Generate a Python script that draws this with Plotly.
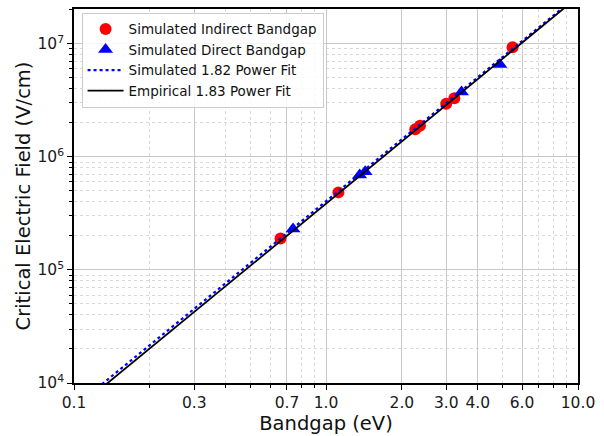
import numpy as np
import plotly.graph_objects as go

# Materials with an indirect bandgap: bandgap (eV) and simulated critical field (V/cm)
indirect_eg = [0.66, 1.12, 2.26, 2.36, 3.0, 3.23, 5.5]
indirect_ec = [1.9e5, 4.85e5, 1.75e6, 1.88e6, 2.95e6, 3.3e6, 9.3e6]

# Materials with a direct bandgap
direct_eg = [0.74, 1.36, 1.43, 3.45, 4.9]
direct_ec = [2.3e5, 6.9e5, 7.4e5, 3.75e6, 6.55e6]

# Power-law fits  Ec = A * Eg^n
sim_fit_coef, sim_fit_exp = 4.05e5, 1.82
emp_fit_coef, emp_fit_exp = 3.85e5, 1.83
fit_range = [0.1, 10.0]

x_tick_vals = [0.1, 0.3, 0.7, 1.0, 2.0, 3.0, 4.0, 6.0, 10.0]
x_tick_text = ["0.1", "0.3", "0.7", "1.0", "2.0", "3.0", "4.0", "6.0", "10.0"]
x_minor_vals = [0.2, 0.4, 0.5, 0.6, 0.8, 0.9, 5.0, 7.0, 8.0, 9.0]
y_tick_vals = [1e4, 1e5, 1e6, 1e7]
y_tick_text = ["10<sup>4</sup>", "10<sup>5</sup>", "10<sup>6</sup>", "10<sup>7</sup>"]
y_minor_vals = [m * 10 ** d for d in range(4, 8) for m in range(2, 10) if m * 10 ** d <= 2e7]

fit_x = np.array(fit_range)

fig = go.Figure()
fig.add_trace(go.Scatter(
    x=indirect_eg, y=indirect_ec, mode="markers", name="Simulated Indirect Bandgap",
    marker=dict(symbol="circle", size=12, color="#ff0000", line=dict(width=0)),
))
fig.add_trace(go.Scatter(
    x=direct_eg, y=direct_ec, mode="markers", name="Simulated Direct Bandgap",
    marker=dict(symbol="triangle-up", size=13, color="#0000ff", line=dict(width=0)),
))
fig.add_trace(go.Scatter(
    x=fit_x, y=sim_fit_coef * fit_x ** sim_fit_exp, mode="lines",
    name="Simulated 1.82 Power Fit",
    line=dict(color="#0000ff", width=2.2, dash="dot"),
))
fig.add_trace(go.Scatter(
    x=fit_x, y=emp_fit_coef * fit_x ** emp_fit_exp, mode="lines",
    name="Empirical 1.83 Power Fit",
    line=dict(color="#000000", width=1.8),
))

axis_common = dict(
    showline=True, linecolor="black", linewidth=1.6, mirror=True,
    ticks="outside", ticklen=5, tickwidth=1.3, tickcolor="black",
    showgrid=True, gridcolor="#c8c8c8", gridwidth=1,
    zeroline=False,
    tickfont=dict(family="DejaVu Sans", size=15.5, color="#1a1a1a"),
)

fig.update_xaxes(
    type="log", range=[np.log10(0.1), np.log10(10.0)],
    tickmode="array", tickvals=x_tick_vals, ticktext=x_tick_text,
    minor=dict(tickmode="array", tickvals=x_minor_vals, ticks="outside", ticklen=3,
               tickwidth=1, tickcolor="black", showgrid=True, gridcolor="#d9d9d9",
               griddash="dot", gridwidth=1),
    title=dict(text="Bandgap (eV)", font=dict(family="DejaVu Sans", size=19.5, color="#111111"),
               standoff=3),
    **axis_common,
)
fig.update_yaxes(
    type="log", range=[4, np.log10(2.03e7)],
    tickmode="array", tickvals=y_tick_vals, ticktext=y_tick_text,
    minor=dict(tickmode="array", tickvals=y_minor_vals, ticks="outside", ticklen=3,
               tickwidth=1, tickcolor="black", showgrid=True, gridcolor="#d9d9d9",
               griddash="dot", gridwidth=1),
    title=dict(text="Critical Electric Field (V/cm)",
               font=dict(family="DejaVu Sans", size=19.5, color="#111111"), standoff=2),
    **axis_common,
)

fig.update_layout(
    width=604, height=436,
    margin=dict(l=74, r=26, t=7, b=53),
    paper_bgcolor="white", plot_bgcolor="white",
    font=dict(family="DejaVu Sans"),
    legend=dict(
        x=0.015, y=0.99, xanchor="left", yanchor="top",
        bgcolor="rgba(255,255,255,0.85)", bordercolor="#cccccc", borderwidth=1,
        font=dict(family="DejaVu Sans", size=13.5, color="#111111"),
        tracegroupgap=0, itemwidth=36,
    ),
    showlegend=True,
)

fig.write_html("out.html")
